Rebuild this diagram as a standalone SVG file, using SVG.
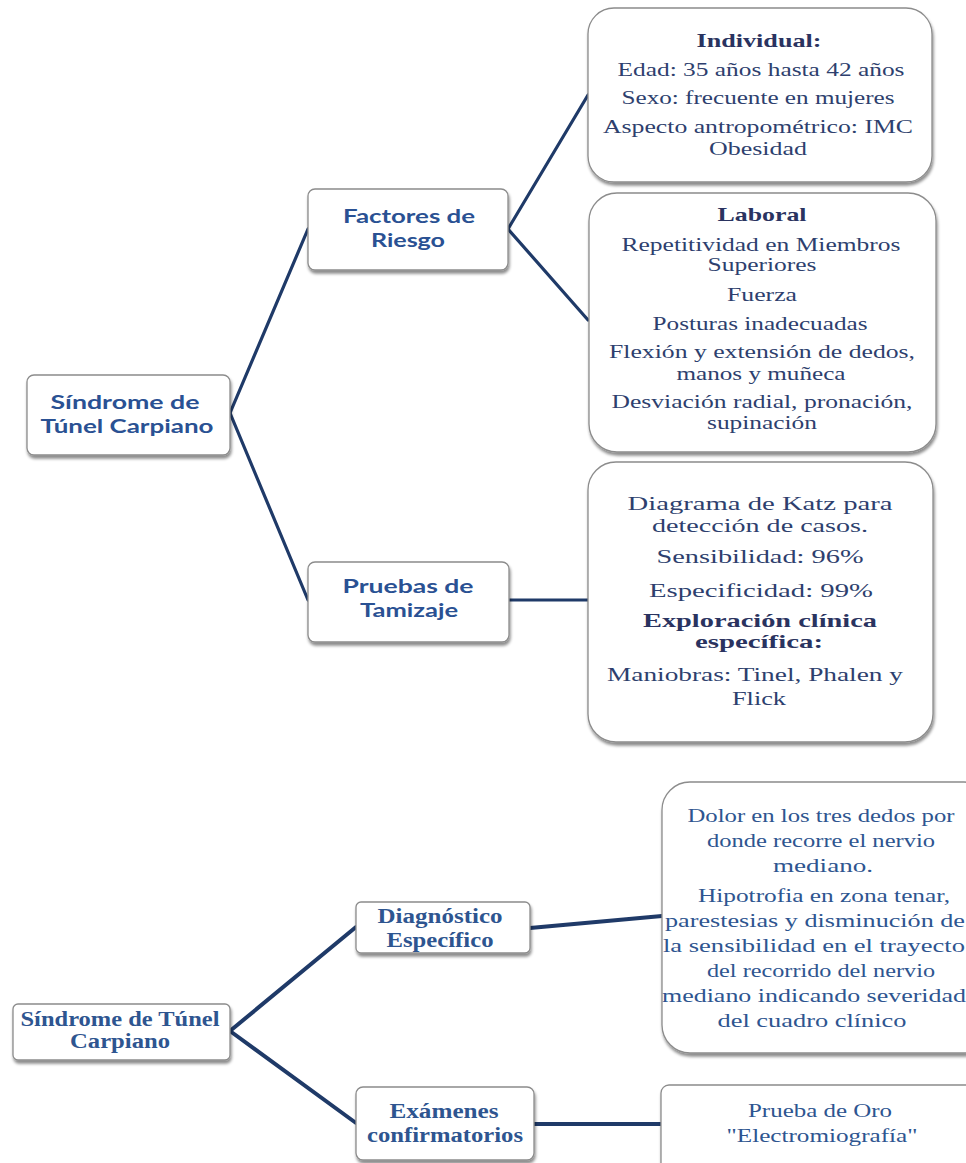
<svg xmlns="http://www.w3.org/2000/svg" width="966" height="1163" viewBox="0 0 966 1163">
  <defs>
    <filter id="shadow" x="-10%" y="-10%" width="125%" height="130%">
      <feGaussianBlur in="SourceAlpha" stdDeviation="1.6"/>
      <feOffset dx="1" dy="3" result="b"/>
      <feFlood flood-color="#000" flood-opacity="0.45"/>
      <feComposite in2="b" operator="in"/>
      <feMerge><feMergeNode/><feMergeNode in="SourceGraphic"/></feMerge>
    </filter>
    <style>
      .box { fill: #ffffff; stroke: #8c8c8c; stroke-width: 1.3; filter: url(#shadow); }
      .link { fill: none; stroke: #1f3a68; stroke-linecap: round; }
      .t1 { stroke-width: 3.2; }
      .t2 { stroke-width: 4; }
      .sans { font-family: Lato, "Open Sans", "Liberation Sans", sans-serif; font-weight: 700; font-size: 19px; fill: #2a5193; text-anchor: middle; }
      .ser { font-family: "Liberation Serif", "Times New Roman", serif; font-size: 19px; fill: #2e3f6e; text-anchor: middle; }
      .serb { font-family: "Liberation Serif", "Times New Roman", serif; font-weight: 700; font-size: 19px; fill: #2a3360; text-anchor: middle; }
      .ser2 { font-family: "Liberation Serif", "Times New Roman", serif; font-size: 19px; fill: #2e5590; text-anchor: middle; }
      .head { font-family: "Liberation Serif", "Times New Roman", serif; font-weight: 700; font-size: 20.5px; fill: #2e5590; text-anchor: middle; }
    </style>
  </defs>

  <rect width="966" height="1163" fill="#ffffff"/>

  <!-- connectors -->
  <g id="connectors">
    <path class="link t1" d="M230 413 L308 229"/>
    <path class="link t1" d="M230 413 L308 600"/>
    <path class="link t1" d="M508 229 L588 95"/>
    <path class="link t1" d="M508 229 L588 320"/>
    <path class="link t1" d="M509 600 L588 600"/>
    <path class="link t2" d="M230 1031 L356 927"/>
    <path class="link t2" d="M230 1031 L356 1123"/>
    <path class="link t2" d="M530 928 L662 916"/>
    <path class="link t2" d="M534 1124 L661 1124"/>
  </g>

  <!-- upper map -->
  <g id="root-top">
    <rect class="box" x="27" y="375" width="203" height="80" rx="7"/>
    <text class="sans" x="125" y="409" textLength="149" lengthAdjust="spacingAndGlyphs">Síndrome de</text>
    <text class="sans" x="127" y="433" textLength="173" lengthAdjust="spacingAndGlyphs">Túnel Carpiano</text>
  </g>

  <g id="factores">
    <rect class="box" x="308" y="189" width="200" height="81" rx="7"/>
    <text class="sans" x="409" y="223" textLength="132" lengthAdjust="spacingAndGlyphs">Factores de</text>
    <text class="sans" x="408" y="247" textLength="74" lengthAdjust="spacingAndGlyphs">Riesgo</text>
  </g>

  <g id="pruebas">
    <rect class="box" x="308" y="562" width="201" height="80" rx="7"/>
    <text class="sans" x="408" y="593" textLength="131" lengthAdjust="spacingAndGlyphs">Pruebas de</text>
    <text class="sans" x="409" y="617" textLength="98" lengthAdjust="spacingAndGlyphs">Tamizaje</text>
  </g>

  <g id="individual">
    <rect class="box" x="588" y="8" width="344" height="174" rx="26"/>
    <text class="serb" x="759" y="47" textLength="125" lengthAdjust="spacingAndGlyphs">Individual:</text>
    <text class="ser" x="761" y="76" textLength="287" lengthAdjust="spacingAndGlyphs">Edad: 35 años hasta 42 años</text>
    <text class="ser" x="758" y="104" textLength="273" lengthAdjust="spacingAndGlyphs">Sexo: frecuente en mujeres</text>
    <text class="ser" x="758" y="133" textLength="310" lengthAdjust="spacingAndGlyphs">Aspecto antropométrico:  IMC</text>
    <text class="ser" x="758" y="155" textLength="98" lengthAdjust="spacingAndGlyphs">Obesidad</text>
  </g>

  <g id="laboral">
    <rect class="box" x="589" y="193" width="347" height="259" rx="28"/>
    <text class="serb" x="762" y="221" textLength="89" lengthAdjust="spacingAndGlyphs">Laboral</text>
    <text class="ser" x="761" y="251" textLength="279" lengthAdjust="spacingAndGlyphs">Repetitividad en Miembros</text>
    <text class="ser" x="762" y="271" textLength="109" lengthAdjust="spacingAndGlyphs">Superiores</text>
    <text class="ser" x="762" y="301" textLength="70" lengthAdjust="spacingAndGlyphs">Fuerza</text>
    <text class="ser" x="760" y="330" textLength="215" lengthAdjust="spacingAndGlyphs">Posturas inadecuadas</text>
    <text class="ser" x="762" y="358" textLength="306" lengthAdjust="spacingAndGlyphs">Flexión y extensión de dedos,</text>
    <text class="ser" x="761" y="380" textLength="169" lengthAdjust="spacingAndGlyphs">manos y muñeca</text>
    <text class="ser" x="762" y="408" textLength="301" lengthAdjust="spacingAndGlyphs">Desviación radial, pronación,</text>
    <text class="ser" x="762" y="429" textLength="110" lengthAdjust="spacingAndGlyphs">supinación</text>
  </g>

  <g id="katz">
    <rect class="box" x="588" y="462" width="345" height="280" rx="28"/>
    <text class="ser" x="760" y="510" textLength="265" lengthAdjust="spacingAndGlyphs">Diagrama de Katz para</text>
    <text class="ser" x="760" y="532" textLength="216" lengthAdjust="spacingAndGlyphs">detección de casos.</text>
    <text class="ser" x="760" y="563" textLength="207" lengthAdjust="spacingAndGlyphs">Sensibilidad: 96%</text>
    <text class="ser" x="761" y="597" textLength="224" lengthAdjust="spacingAndGlyphs">Especificidad: 99%</text>
    <text class="serb" x="760" y="627" textLength="234" lengthAdjust="spacingAndGlyphs">Exploración clínica</text>
    <text class="serb" x="759" y="648" textLength="128" lengthAdjust="spacingAndGlyphs">específica:</text>
    <text class="ser" x="755" y="681" textLength="296" lengthAdjust="spacingAndGlyphs">Maniobras: Tinel, Phalen y</text>
    <text class="ser" x="759" y="705" textLength="54" lengthAdjust="spacingAndGlyphs">Flick</text>
  </g>

  <!-- lower map -->
  <g id="root-bottom">
    <rect class="box" x="13" y="1004" width="217" height="56" rx="5"/>
    <text class="head" x="120" y="1026" textLength="199" lengthAdjust="spacingAndGlyphs">Síndrome de Túnel</text>
    <text class="head" x="120" y="1048" textLength="100" lengthAdjust="spacingAndGlyphs">Carpiano</text>
  </g>

  <g id="diagnostico">
    <rect class="box" x="356" y="902" width="174" height="51" rx="5"/>
    <text class="head" x="440" y="923" textLength="125" lengthAdjust="spacingAndGlyphs">Diagnóstico</text>
    <text class="head" x="440" y="947" textLength="107" lengthAdjust="spacingAndGlyphs">Específico</text>
  </g>

  <g id="examenes">
    <rect class="box" x="356" y="1087" width="178" height="73" rx="7"/>
    <text class="head" x="444" y="1118" textLength="109" lengthAdjust="spacingAndGlyphs">Exámenes</text>
    <text class="head" x="445" y="1142" textLength="156" lengthAdjust="spacingAndGlyphs">confirmatorios</text>
  </g>

  <g id="dolor">
    <rect class="box" x="662" y="782" width="330" height="271" rx="28"/>
    <text class="ser2" x="821" y="822" textLength="267" lengthAdjust="spacingAndGlyphs">Dolor en los tres dedos por</text>
    <text class="ser2" x="821" y="847" textLength="228" lengthAdjust="spacingAndGlyphs">donde recorre el nervio</text>
    <text class="ser2" x="823" y="872" textLength="100" lengthAdjust="spacingAndGlyphs">mediano.</text>
    <text class="ser2" x="824" y="902" textLength="252" lengthAdjust="spacingAndGlyphs">Hipotrofia en zona tenar,</text>
    <text class="ser2" x="815" y="927" textLength="300" lengthAdjust="spacingAndGlyphs">parestesias y disminución de</text>
    <text class="ser2" x="814" y="952" textLength="302" lengthAdjust="spacingAndGlyphs">la sensibilidad en el trayecto</text>
    <text class="ser2" x="821" y="977" textLength="228" lengthAdjust="spacingAndGlyphs">del recorrido del nervio</text>
    <text class="ser2" x="814" y="1002" textLength="304" lengthAdjust="spacingAndGlyphs">mediano indicando severidad</text>
    <text class="ser2" x="812" y="1027" textLength="189" lengthAdjust="spacingAndGlyphs">del cuadro clínico</text>
  </g>

  <g id="prueba-oro">
    <rect class="box" x="661" y="1085" width="330" height="90" rx="8"/>
    <text class="ser2" x="820" y="1117" textLength="144" lengthAdjust="spacingAndGlyphs">Prueba de Oro</text>
    <text class="ser2" x="822" y="1142" textLength="191" lengthAdjust="spacingAndGlyphs">"Electromiografía"</text>
  </g>
</svg>
